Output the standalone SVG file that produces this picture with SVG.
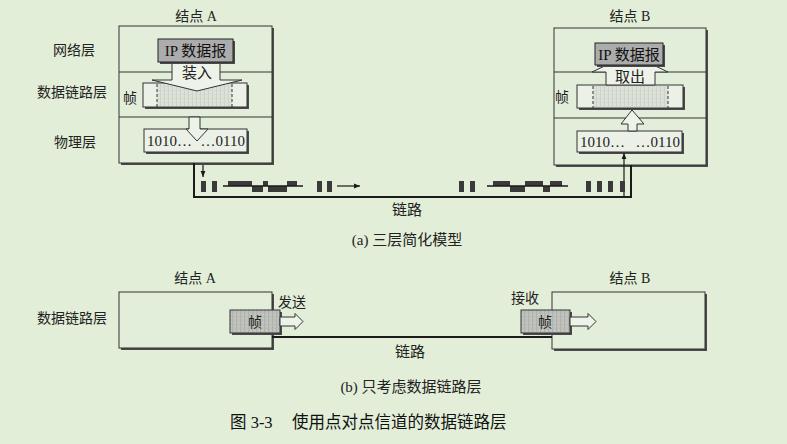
<svg xmlns="http://www.w3.org/2000/svg" width="787" height="444" viewBox="0 0 787 444">
<defs>
<style>
text{font-family:"Liberation Serif","Noto Sans CJK SC",serif;fill:#222;}
.lbl{font-size:14px;text-anchor:middle;}
.ipt{font-size:15px;text-anchor:middle;fill:#111;}
.l15{font-size:15px;text-anchor:middle;}
.num{font-size:15px;}
.box{fill:#e3eeda;stroke:#333;stroke-width:1;}
.shadow{fill:#4a4a4a;}
.ip{fill:#acacac;stroke:#222;stroke-width:1;}
.frm{fill:#ebf1e6;stroke:#333;stroke-width:1;}
.dot{stroke:#333;stroke-width:1;stroke-dasharray:3,2;}
.arr{fill:#eef3ea;stroke:#333;stroke-width:1;}
.gfrm{fill:url(#speck2);stroke:#333;stroke-width:1;}
.link{fill:none;stroke:#1a1a1a;stroke-width:2;}
.thin{fill:none;stroke:#1a1a1a;stroke-width:1.2;}
.sig{fill:#3a3a3a;}
</style>
<pattern id="speck" width="4" height="4" patternUnits="userSpaceOnUse">
<rect width="4" height="4" fill="#dce2d8"/>
<rect x="0" y="0" width="1" height="4" fill="#cdd3c9"/>
<rect x="2" y="2" width="2" height="1" fill="#d3d9cf"/>
</pattern>
<pattern id="speck2" width="4" height="4" patternUnits="userSpaceOnUse">
<rect width="4" height="4" fill="#bcbfb9"/>
<rect x="0" y="0" width="1" height="4" fill="#b0b3ad"/>
<rect x="2" y="2" width="2" height="1" fill="#c8cbc5"/>
</pattern>
<marker id="ah" viewBox="0 0 10 10" refX="10" refY="5" markerWidth="6" markerHeight="6" orient="auto" markerUnits="userSpaceOnUse">
<path d="M0,1 L10,5 L0,9 z" fill="#1a1a1a"/>
</marker>
</defs>
<rect width="787" height="444" fill="#e2eed8"/>

<!-- (a) Node A -->
<g id="nodeA-top">
<rect class="shadow" x="121" y="28" width="153" height="137"/>
<rect class="box" x="119" y="26" width="153" height="137"/>
<line x1="119" y1="72" x2="272" y2="72" stroke="#333"/>
<line x1="119" y1="117" x2="272" y2="117" stroke="#333"/>
<text class="lbl" x="196" y="21">结点 A</text>
<text class="lbl" x="74" y="55">网络层</text>
<text class="lbl" x="72" y="97">数据链路层</text>
<text class="lbl" x="75" y="147">物理层</text>
<rect class="shadow" x="145" y="85" width="104" height="24"/>
<rect class="frm" x="143" y="83" width="104" height="24"/>
<rect x="157" y="84" width="75" height="22" fill="url(#speck)"/>
<line class="dot" x1="157" y1="84" x2="157" y2="107"/>
<line class="dot" x1="232" y1="84" x2="232" y2="107"/>
<polygon class="arr" points="172,62 220,62 220,80 242,80 197,91 152,80 172,80"/>
<rect class="shadow" x="160" y="41" width="75" height="23"/>
<rect class="ip" x="158" y="39" width="75" height="23"/>
<text class="ipt" x="195.5" y="56">IP 数据报</text>
<text class="l15" x="197" y="78">装入</text>
<text class="lbl" x="130" y="103">帧</text>
<rect class="shadow" x="146" y="131" width="103" height="23"/>
<rect class="frm" x="144" y="129" width="103" height="23"/>
<polygon class="arr" points="189,117 200,117 200,129 208,129 197,141 186,129 189,129"/>
<text class="num" x="147" y="146">1010…</text>
<text class="num" x="245" y="146" text-anchor="end">…0110</text>
</g>

<!-- (a) Node B -->
<g id="nodeB-top">
<rect class="shadow" x="556" y="30" width="152" height="137"/>
<rect class="box" x="554" y="28" width="152" height="137"/>
<line x1="554" y1="72" x2="706" y2="72" stroke="#333"/>
<line x1="554" y1="118" x2="706" y2="118" stroke="#333"/>
<text class="lbl" x="630" y="21">结点 B</text>
<rect class="shadow" x="579" y="87" width="106" height="23"/>
<rect class="frm" x="577" y="85" width="106" height="23"/>
<rect x="593" y="86" width="75" height="21" fill="url(#speck)"/>
<line class="dot" x1="593" y1="86" x2="593" y2="108"/>
<line class="dot" x1="668" y1="86" x2="668" y2="108"/>
<polygon class="arr" points="606,85 655,85 655,72 668,72 630,54 592,72 606,72"/>
<rect class="shadow" x="597" y="45" width="68" height="22"/>
<rect class="ip" x="595" y="43" width="68" height="22"/>
<text class="ipt" x="629" y="59.5">IP 数据报</text>
<text class="l15" x="630" y="82">取出</text>
<text class="lbl" x="562" y="102">帧</text>
<rect class="shadow" x="579" y="133" width="105" height="21"/>
<rect class="frm" x="577" y="131" width="105" height="21"/>
<polygon class="arr" points="628,131 637,131 637,124 644,124 632,110 621,124 628,124"/>
<text class="num" x="580" y="147">1010…</text>
<text class="num" x="680" y="147" text-anchor="end">…0110</text>
</g>

<!-- (a) link and signals -->
<g id="connectors-top">
<path class="link" d="M194,163 V197 H631 V165"/>
<line class="thin" x1="203" y1="165" x2="203" y2="177" marker-end="url(#ah)"/>
<line class="thin" x1="624" y1="196" x2="624" y2="153" marker-end="url(#ah)"/>
<line class="thin" x1="337" y1="186" x2="360" y2="186" marker-end="url(#ah)"/>
<g class="sig">
<rect x="201" y="181" width="5" height="11"/>
<rect x="212" y="181" width="5" height="11"/>
<rect x="317" y="181" width="5" height="11"/>
<rect x="327" y="181" width="5" height="11"/>
<rect x="459" y="181" width="5" height="11"/>
<rect x="470" y="181" width="5" height="11"/>
<rect x="586" y="181" width="5" height="11"/>
<rect x="597" y="181" width="5" height="11"/>
<rect x="608" y="181" width="5" height="11"/>
<rect x="620" y="181" width="5" height="11"/>
<rect x="228" y="181" width="24" height="5"/>
<rect x="252" y="186" width="11" height="6"/>
<rect x="263" y="181" width="5" height="5"/>
<rect x="268" y="186" width="19" height="6"/>
<rect x="287" y="181" width="10" height="5"/>
<rect x="493" y="181" width="17" height="5"/>
<rect x="510" y="186" width="15" height="6"/>
<rect x="525" y="181" width="18" height="5"/>
<rect x="543" y="186" width="7" height="6"/>
<rect x="550" y="181" width="12" height="5"/>
</g>
<line x1="223" y1="186" x2="303" y2="186" stroke="#1a1a1a" stroke-width="1.5"/>
<line x1="487" y1="186" x2="568" y2="186" stroke="#1a1a1a" stroke-width="1.5"/>
</g>
<text class="l15" x="407" y="215">链路</text>
<text class="l15" x="407" y="245">(a) 三层简化模型</text>

<!-- (b) Node A -->
<g id="nodeA-bottom">
<text class="lbl" x="195" y="283">结点 A</text>
<text class="lbl" x="72" y="323">数据链路层</text>
<rect class="shadow" x="121" y="294" width="153" height="56"/>
<rect class="box" x="119" y="292" width="153" height="56"/>
<rect class="shadow" x="232" y="312" width="50" height="23"/>
<rect class="gfrm" x="230" y="310" width="50" height="23"/>
<text class="lbl" x="255" y="327">帧</text>
<polygon class="arr" points="280,317 295,317 295,313.5 303,321.5 295,329.5 295,326 280,326"/>
<text class="lbl" x="292" y="307">发送</text>
</g>

<!-- (b) Node B -->
<g id="nodeB-bottom">
<text class="lbl" x="630" y="283">结点 B</text>
<rect class="shadow" x="554" y="294" width="153" height="57"/>
<rect class="box" x="552" y="292" width="153" height="57"/>
<rect class="shadow" x="523" y="312" width="49" height="23"/>
<rect class="gfrm" x="521" y="310" width="49" height="23"/>
<text class="lbl" x="545" y="327">帧</text>
<polygon class="arr" points="570,317 588,317 588,313.5 596,321.5 588,329.5 588,326 570,326"/>
<text class="lbl" x="525" y="303">接收</text>
</g>

<g id="connectors-bottom">
<line class="link" x1="272" y1="337" x2="552" y2="337"/>
</g>
<text class="l15" x="410" y="357">链路</text>
<text class="l15" x="411" y="392">(b) 只考虑数据链路层</text>

<text x="230" y="428" style="font-size:16.5px;fill:#111">图 3-3</text>
<text x="292" y="428" style="font-size:16.5px;fill:#111">使用点对点信道的数据链路层</text>
</svg>
